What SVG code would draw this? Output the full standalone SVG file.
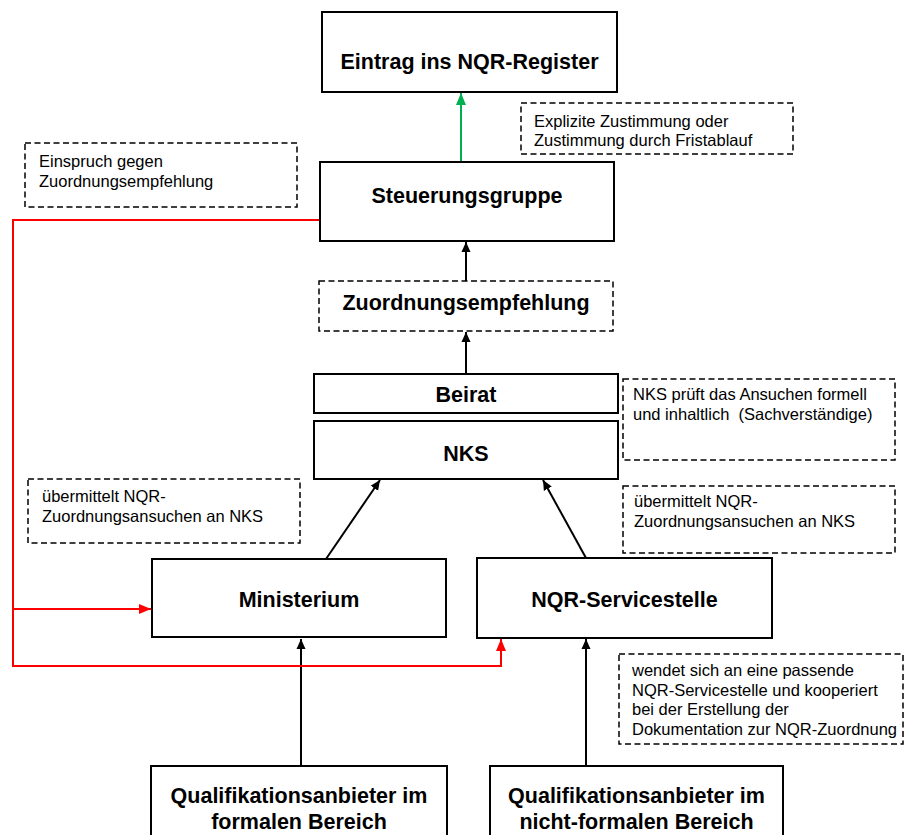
<svg xmlns="http://www.w3.org/2000/svg" width="905" height="835" viewBox="0 0 905 835">
<defs>
<style>
.box{fill:#fff;stroke:#000;stroke-width:2}
.dbox{fill:#fff;stroke:#000;stroke-width:1.5;stroke-dasharray:6,3.5}
.bt{font-family:"Liberation Sans",Arial,sans-serif;font-weight:bold;font-size:21.5px;fill:#000;text-anchor:middle}
.st{font-family:"Liberation Sans",Arial,sans-serif;font-size:16.5px;fill:#000}
.k{stroke:#000;stroke-width:2;fill:none}
.r{stroke:#f00;stroke-width:2;fill:none}
.g{stroke:#00b050;stroke-width:2;fill:none}
</style>
<marker id="ak" markerUnits="userSpaceOnUse" markerWidth="10" markerHeight="10" refX="10" refY="5" orient="auto"><path d="M0,0.5 L10,5 L0,9.5 z" fill="#000"/></marker>
<marker id="ar" markerUnits="userSpaceOnUse" markerWidth="12" markerHeight="10" refX="12" refY="5" orient="auto"><path d="M0,0 L12,5 L0,10 z" fill="#f00"/></marker>
<marker id="ag" markerUnits="userSpaceOnUse" markerWidth="12" markerHeight="10" refX="12" refY="5" orient="auto"><path d="M0,0 L12,5 L0,10 z" fill="#00b050"/></marker>
</defs>
<rect width="905" height="835" fill="#fff"/>

<g id="connectors">
<line class="g" x1="461" y1="162" x2="461" y2="93" marker-end="url(#ag)"/>
<line class="k" x1="466" y1="281" x2="466" y2="242" marker-end="url(#ak)"/>
<line class="k" x1="466" y1="374" x2="466" y2="332" marker-end="url(#ak)"/>
<line class="k" x1="326" y1="559" x2="380" y2="480" marker-end="url(#ak)"/>
<line class="k" x1="586" y1="558" x2="543" y2="480" marker-end="url(#ak)"/>
<line class="k" x1="301" y1="766" x2="301" y2="639" marker-end="url(#ak)"/>
<line class="k" x1="586" y1="766" x2="586" y2="639" marker-end="url(#ak)"/>
<path class="r" d="M320,220 H13 V666 H501 V639" marker-end="url(#ar)"/>
<path class="r" d="M13,609 H151" marker-end="url(#ar)"/>
</g>

<g id="eintrag">
<rect class="box" x="322" y="12" width="295" height="80"/>
<text class="bt" x="469.5" y="69">Eintrag ins NQR-Register</text>
</g>
<g id="note-zustimmung">
<rect class="dbox" x="521" y="103" width="272" height="51"/>
<text class="st" x="534" y="127">Explizite Zustimmung oder</text>
<text class="st" x="534" y="146">Zustimmung durch Fristablauf</text>
</g>
<g id="note-einspruch">
<rect class="dbox" x="25" y="143" width="272" height="64"/>
<text class="st" x="39" y="167">Einspruch gegen</text>
<text class="st" x="39" y="187">Zuordnungsempfehlung</text>
</g>
<g id="steuerungsgruppe">
<rect class="box" x="320" y="162" width="294" height="79"/>
<text class="bt" x="467" y="203">Steuerungsgruppe</text>
</g>
<g id="zuordnungsempfehlung">
<rect class="dbox" x="319" y="281" width="294" height="50"/>
<text class="bt" x="466" y="310">Zuordnungsempfehlung</text>
</g>
<g id="beirat">
<rect class="box" x="314" y="374" width="304" height="39"/>
<text class="bt" x="466" y="402">Beirat</text>
</g>
<g id="nks">
<rect class="box" x="314" y="421" width="304" height="58"/>
<text class="bt" x="466" y="461">NKS</text>
</g>
<g id="note-nks">
<rect class="dbox" x="623" y="379" width="272" height="81"/>
<text class="st" x="633" y="400">NKS prüft das Ansuchen formell</text>
<text class="st" x="633" y="420" xml:space="preserve">und inhaltlich  (Sachverständige)</text>
</g>
<g id="note-uebermittelt-rechts">
<rect class="dbox" x="623" y="486" width="272" height="67"/>
<text class="st" x="634" y="507">übermittelt NQR-</text>
<text class="st" x="634" y="527">Zuordnungsansuchen an NKS</text>
</g>
<g id="note-uebermittelt-links">
<rect class="dbox" x="28" y="479" width="272" height="64"/>
<text class="st" x="42" y="502">übermittelt NQR-</text>
<text class="st" x="42" y="522">Zuordnungsansuchen an NKS</text>
</g>
<g id="ministerium">
<rect class="box" x="152" y="559" width="294" height="78"/>
<text class="bt" x="299" y="607">Ministerium</text>
</g>
<g id="servicestelle">
<rect class="box" x="477" y="558" width="295" height="80"/>
<text class="bt" x="624.5" y="607">NQR-Servicestelle</text>
</g>
<g id="note-wendet">
<rect class="dbox" x="619" y="654" width="284" height="90"/>
<text class="st" x="632" y="676">wendet sich an eine passende</text>
<text class="st" x="632" y="695.5">NQR-Servicestelle und kooperiert</text>
<text class="st" x="632" y="715">bei der Erstellung der</text>
<text class="st" x="632" y="734.5">Dokumentation zur NQR-Zuordnung</text>
</g>
<g id="anbieter-formal">
<rect class="box" x="151" y="766" width="296" height="80"/>
<text class="bt" x="299" y="803">Qualifikationsanbieter im</text>
<text class="bt" x="299" y="829">formalen Bereich</text>
</g>
<g id="anbieter-nichtformal">
<rect class="box" x="490" y="766" width="293" height="80"/>
<text class="bt" x="636.5" y="803">Qualifikationsanbieter im</text>
<text class="bt" x="636.5" y="829">nicht-formalen Bereich</text>
</g>
</svg>
